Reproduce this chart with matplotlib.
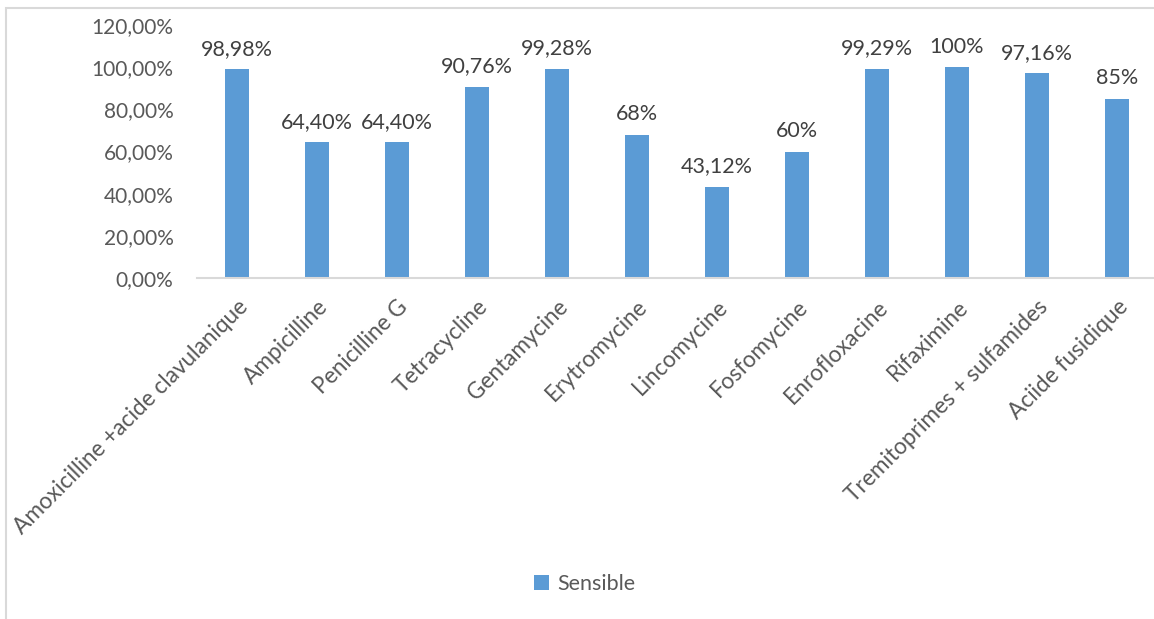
import matplotlib.pyplot as plt
from matplotlib.patches import Rectangle

antibiotiques = ['Amoxicilline +acide clavulanique', 'Ampicilline', 'Penicilline G',
                 'Tetracycline', 'Gentamycine', 'Erytromycine', 'Lincomycine',
                 'Fosfomycine', 'Enrofloxacine', 'Rifaximine',
                 'Tremitoprimes + sulfamides', 'Aciide fusidique']
sensible = [98.98, 64.40, 64.40, 90.76, 99.28, 68, 43.12, 60, 99.29, 100, 97.16, 85]
etiquettes = ['98,98%', '64,40%', '64,40%', '90,76%', '99,28%', '68%', '43,12%',
              '60%', '99,29%', '100%', '97,16%', '85%']
yticks = [0, 20, 40, 60, 80, 100, 120]

plt.rcParams['font.family'] = ['Lato', 'DejaVu Sans']

fig = plt.figure(figsize=(11.54, 6.19), dpi=100)
ax = fig.add_axes([197 / 1154, 1 - 278 / 619, 960 / 1154, 253 / 619])

bleu = '#5b9bd5'
x = range(len(antibiotiques))
ax.bar(x, sensible, width=0.31, color=bleu, label='Sensible')
for i, v in enumerate(sensible):
    ax.text(i, v + 5, etiquettes[i], ha='center', va='bottom', fontsize=15.5, color='#404040')

ax.set_xlim(-0.5, len(antibiotiques) - 0.5)
ax.set_ylim(0, 120)
ax.set_yticks(yticks)
ax.set_yticklabels(['%d,00%%' % t for t in yticks], fontsize=15, color='#595959')
ax.set_xticks(list(x))
ax.set_xticklabels(antibiotiques, rotation=45, ha='right', rotation_mode='anchor',
                   fontsize=16.3, color='#595959')
ax.tick_params(axis='y', length=0, pad=17)
ax.tick_params(axis='x', length=0, pad=13)
for s in ['top', 'right', 'left']:
    ax.spines[s].set_visible(False)
ax.spines['bottom'].set_color('#d9d9d9')
ax.spines['bottom'].set_linewidth(1.5)

leg = fig.legend(loc='center', bbox_to_anchor=(585 / 1154, 1 - 584 / 619), frameon=False,
                 fontsize=15.5, handlelength=0.7, handleheight=0.7, handletextpad=0.4)
for t in leg.get_texts():
    t.set_color('#595959')

# cadre du graphique
fig.patches.append(Rectangle((6 / 1154, -0.1), 1.2, 1 - 8 / 619 + 0.1, transform=fig.transFigure,
                             fill=False, edgecolor='#d9d9d9', linewidth=1.5))

fig.savefig('out.png', dpi=100)
